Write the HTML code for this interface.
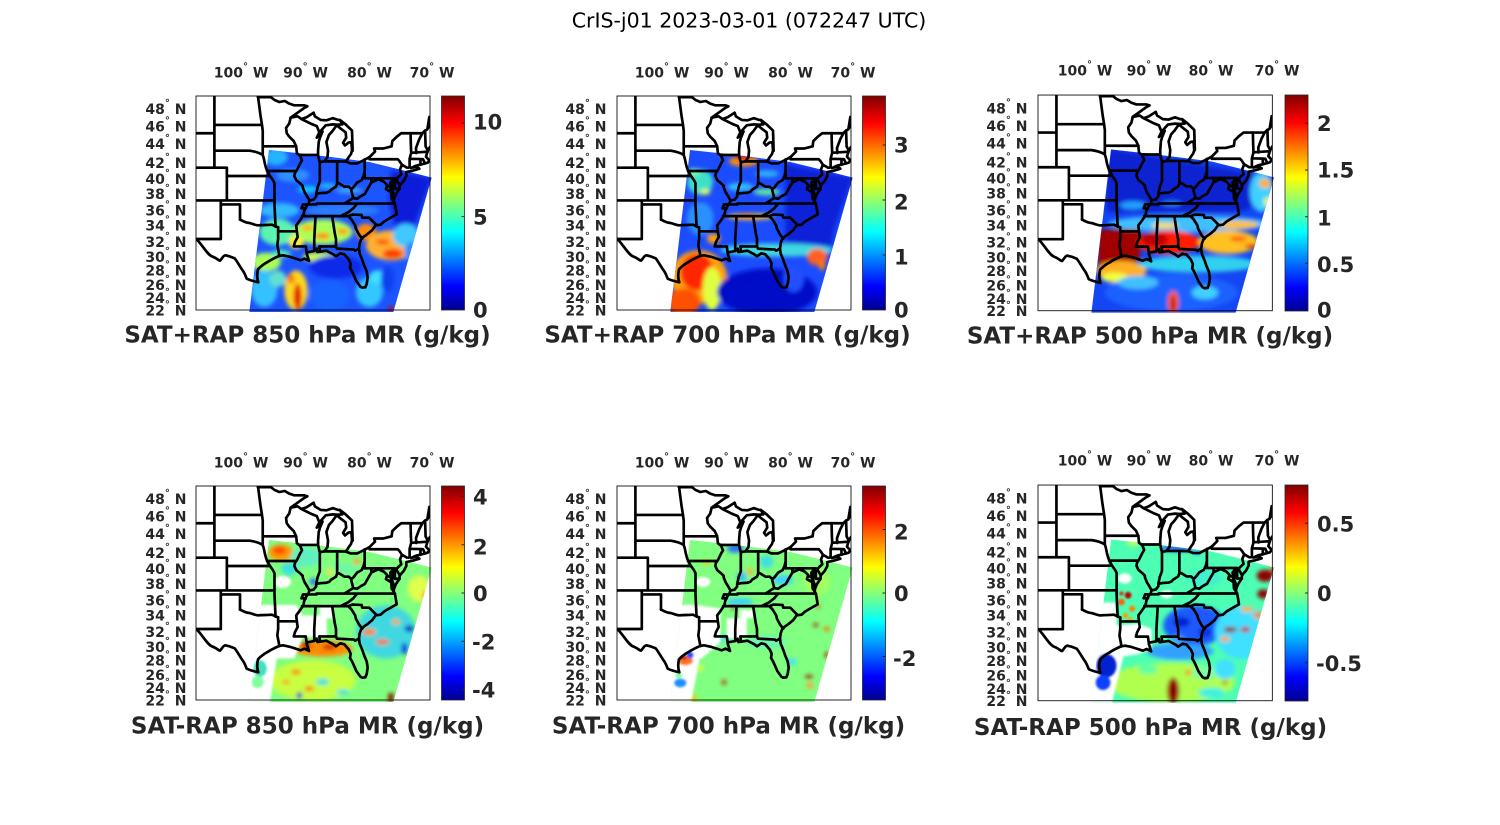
<!DOCTYPE html>
<html><head><meta charset="utf-8">
<style>
html,body{margin:0;padding:0;background:#fff;width:1500px;height:825px;overflow:hidden}
svg{display:block}
.t{font-family:"DejaVu Sans","Liberation Sans",sans-serif;fill:#262626;font-weight:bold}
.lat{font-size:14px;text-anchor:end}
.lon{font-size:14px;text-anchor:middle}
.ttl{font-size:23px;text-anchor:middle}
.cb{font-size:21px}
</style></head><body>
<svg xmlns="http://www.w3.org/2000/svg" width="1500" height="825" viewBox="0 0 1500 825">
<defs>
<linearGradient id="jet" x1="0" y1="1" x2="0" y2="0">
<stop offset="0" stop-color="#000090"/><stop offset="0.11" stop-color="#0000ff"/><stop offset="0.365" stop-color="#00ffff"/><stop offset="0.62" stop-color="#ffff00"/><stop offset="0.875" stop-color="#ff0000"/><stop offset="1" stop-color="#800000"/>
</linearGradient>
<clipPath id="sw"><path d="M219,174 L320,185 L420,197 L520,210 L610,232 L707,257 L592,660 L160,660 Z"/></clipPath>
<clipPath id="bx"><rect x="0" y="12" width="702" height="642"/></clipPath>
<filter id="bl" x="-10%" y="-10%" width="120%" height="120%"><feGaussianBlur stdDeviation="6"/></filter>
<filter id="bl2" x="-10%" y="-10%" width="120%" height="120%"><feGaussianBlur stdDeviation="3"/></filter>
<g id="mapl" fill="none" stroke="#000" stroke-width="8" stroke-linejoin="round" stroke-linecap="round">
<path d="M55.2,12 V227 M0,123.7 H55.2 M55.2,98.7 H198 M55.2,176 H161 C175,178 190,182 200,189 M0,227 H92.6 V325.3 M92.6,252 H222 M200,189 C205,200 205,212 208,220 C211,235 218,245 222,252 C228,260 234,268 235.5,274 V337.2 M185.8,12 L193.4,70 L198,98.7 L200.2,116 V189 M200.2,163 H300.6 M213,237 H297 M0,325.3 H235.5 M74.4,325.3 V441 H0 M74.4,337.2 H132 V382.7 M235.5,337.2 L238.6,404 M246.4,406 V441 L244,460 L248,480 L250,492 M246.4,418 H302"/>
<path d="M132,382.7 C145,390 155,393 161,393 C172,396 180,400 186,400 C196,399 202,399 209,399 C218,399 224,398 228,398 C235,401 240,404 246.4,406"/>
<path d="M3,443 C20,460 35,490 50,494 C60,497 68,506 72,506 C78,500 82,490 88,490 C100,492 110,496 116,499 C125,510 135,530 142,538 C148,548 150,555 152,560 C165,566 178,569 187,571 C183,560 183,545 186,532 C192,525 205,515 213,511 C222,505 228,502 232,500 C238,497 244,494 250,492"/>
<path d="M250,492 L261,490 L280,494 L299,500 L314,505 L326,500 L339,507 L335,494 L332,485 L334,481 L355,477 L362,470 L364,480 L372,479 L391,476 L412,487 L420,493 L433,484 L445,487 L458,502 L464,515 L462,528 L468,538 L474,551 L481,567 L493,584 L499,587 L508,586 L512,576 L515,557 L512,538 L504,519 L499,504 L491,485 L489,470 L491,454 L495,443 L503,434 L516,425 L529,414 L539,400 L554,398 L564,389 L579,380 L593,372 L602,367 L600,354 L597,337 L593,328 L594,320 L600,306 L610,291 L611,282 L613,278 L623,267 L631,252 L631,240 L650,236 L670,230 L660,224 L645,228 L660,221 L681,216 L695,212 L700,205 L690,194 L693,184 L697,173 L702,165"/>
<path d="M593,328 L587,320 L586,300 L585,291 L583,272 L591,263 L594,265 L590,280 L588,294 L595,313 L594,321 M602,264 L611,280 M587,301 L578,296 M584,285 L576,283"/>
<path d="M283.7,78 L279.8,94.4 L270.2,107.8 L272.2,123.7 L279.8,134.2 L293.3,147.4 L300.6,163 L302.6,183.7 L312.5,191.4 L318,205 L312.5,214.4 L302.6,234.6 L297,242 L295,252 L300.6,264.4 L312.5,274.2 L320.2,281.6 L320.2,286.5 L326,301.1 L333.6,313.2 L340.3,325.3 L337.4,334.8 L331.7,341.9 L325,355 L322.1,370.1 L312.5,384.1 L300.6,400.2 L302.6,418.5 L305,435 L297,450 L293.3,463.2 H329.4 L331.7,480.7"/>
<path d="M185.8,15.5 H225 L235.7,24 L250,30 L266.4,27 L280,35 L295,40 L324,40 L334,43 L324,48.4 L304.8,62.1 L283.7,77 L304.8,73 L316.3,81 L331.7,75.6 L352.8,62.1 L356.6,73 L373.9,83.7 L391.2,85 L410.4,78.3 L425.8,83.7 L431.5,83.7 L448.8,97.1 L468,115.8 L469.9,176 M316.3,81 L343.2,94.4 L362.4,102.4 L370.1,121.1 L362.4,136.9 L368,131 L379.7,118.4 L372,136.9 L368.2,150 L366.2,176 L366.2,188.9 L370.1,206.8 L372,210.6 L385.4,208.1 M370.1,121.1 L389.3,99.8 L410.4,97.1 L425,98 L439.2,97.1 L435,90 L431.5,83.7 M311.7,188.9 H366.2"/>
<path d="M385.4,208.1 L394.4,195 L396.2,176 L391.2,150 L398.9,128.8 L408.5,118.4 L420,102.4 L425.8,102.4 L431.5,107.8 L448.8,121.1 L450.7,136.9 L441.1,152.6 L446.9,160.4 L457,152 L466.1,150 L468,176 L465,186 L458.4,195 L449.8,208.8 M385.4,208.1 H423.8 L449.8,208.8"/>
<path d="M449.8,208.8 L464.2,214.4 L483.4,214.4 L506.4,203 L520.6,195.3 L537.1,178.6 L534.2,169.5 L562,169.5 L587,163 L588.8,147.4 L602.4,134.2 L615.8,123.7 H679.2 L686.9,115.8 L692.6,113.1 L702,100 M694,112 L700,75"/>
<path d="M371.4,208 V268 L365,285 L360.5,306 M340.3,325.3 L352.8,322.9 L360.5,313.2 L360.5,306 L372,303.6 L391.2,302.3 L400.8,298.7 L404.6,293.8 L420,284 L423.8,274.2 L429.6,274.2 L445,284 L458.4,284 L466.1,291.5 L471.8,286.5 L483.4,271.8 L496.8,264.4 L502.6,252 L506,237 M423.5,209.6 V274.2 M506,202 V259 H596.6 V290.3 H611 M520.6,195.3 V201.7 H605.3 L610.1,206.8 L617.8,218.3 L612,232 L615.8,247 L610.1,252 L602.4,259.5 M617.8,218.3 L633.1,227 M526,259 V271.8 L546.7,262 L564,269.3 L573.6,279.2 L569.8,291.5 L587,301.1 M526,271.8 L516,289 L506.4,306 L493,313.2 L483.4,320.5 L471.8,318.1 L466.1,296.3 M471.8,318.1 L445,334.8 M321,337.2 H361.4 V334.8 H596.6 M321.1,337.2 L316.3,349 H329.4 M318.2,372.4 H433.1 L456.5,360.8 L471.8,349 L483.4,335 M433.1,372.4 H456.5 L469.9,367.7 L496.8,368.9 L498.7,377.1 L519.8,377.1 L541.8,399.1 M456.5,372.4 L466.1,381.7 L477.6,400.2 L479.5,409.4 L489.1,427.5 L498.7,439.9 M408.5,372.4 L416.2,423 L420,441 V463.2 L422.7,469.9 L473.8,472.7 L477.6,476.4 L488.2,469.7 M370.1,463.2 H420 M370.1,463.2 L372,478.6 M358.6,372.4 L354.7,443.2 V476.4"/>
<path d="M643.7,123.7 L644.6,160.4 L645.6,182.5 L640.8,200.4 L640.8,224.6 L637.9,227 M679.2,123.7 L669.6,142.1 L660,168.2 L660.8,183 M645.6,182.5 L688.8,179.4 L693,180 M640.8,200.4 L673.4,201.2 L681.1,201.7 L686.9,214.4 M673.4,201.2 L673.4,218.3 M694.6,173.9 L688.8,163 L687.3,115.8"/>
</g>
</defs>
<rect width="1500" height="825" fill="#fff"/>
<text x="749" y="27.3" font-family="DejaVu Sans, Liberation Sans, sans-serif" font-size="20.5" text-anchor="middle" fill="#000">CrIS-j01 2023-03-01 (072247 UTC)</text>

<!-- PANEL 1 -->
<g transform="translate(196,92) scale(0.33333)">
<g clip-path="url(#sw)">
<rect x="0" y="0" width="720" height="680" fill="#1c54ff"/>
<g filter="url(#bl)">
<ellipse cx="240" cy="195" rx="35" ry="25" fill="#22b4ff"/>
<ellipse cx="290" cy="250" rx="50" ry="20" fill="#2f8fff"/>
<ellipse cx="335" cy="292" rx="30" ry="10" fill="#10d0ff"/>
<ellipse cx="395" cy="282" rx="25" ry="8" fill="#20c0ff"/>
<ellipse cx="460" cy="295" rx="40" ry="10" fill="#3aa0ff"/>
<polygon points="585,235 707,257 650,420 600,420 580,330" fill="#0a1ed8"/>
<ellipse cx="250" cy="355" rx="60" ry="22" fill="#30b8ff"/>
<ellipse cx="440" cy="355" rx="110" ry="18" fill="#2a7cff"/>
<ellipse cx="245" cy="420" rx="55" ry="40" fill="#5cf2b0"/>
<ellipse cx="380" cy="420" rx="90" ry="38" fill="#a8ff58"/>
<ellipse cx="300" cy="450" rx="22" ry="20" fill="#ffee30"/>
<ellipse cx="335" cy="408" rx="18" ry="9" fill="#ffb000"/>
<ellipse cx="380" cy="432" rx="22" ry="10" fill="#ff9000"/>
<ellipse cx="440" cy="418" rx="18" ry="9" fill="#ff9a00"/>
<ellipse cx="510" cy="420" rx="30" ry="25" fill="#ff8a10"/>
<ellipse cx="585" cy="460" rx="75" ry="45" fill="#ffb030"/>
<ellipse cx="590" cy="485" rx="30" ry="14" fill="#ff3a00"/>
<ellipse cx="560" cy="450" rx="20" ry="8" fill="#ff5000"/>
<ellipse cx="630" cy="430" rx="40" ry="35" fill="#40c8ff"/>
<ellipse cx="650" cy="480" rx="25" ry="30" fill="#2a8cff"/>
<ellipse cx="210" cy="510" rx="45" ry="28" fill="#a8ff58"/>
<ellipse cx="255" cy="485" rx="30" ry="12" fill="#50e8c0"/>
<ellipse cx="205" cy="590" rx="40" ry="55" fill="#34c0ff"/>
<ellipse cx="245" cy="560" rx="25" ry="25" fill="#60e0d0"/>
<ellipse cx="300" cy="595" rx="35" ry="60" fill="#ffd820"/>
<ellipse cx="305" cy="615" rx="12" ry="40" fill="#e01000"/>
<ellipse cx="285" cy="560" rx="12" ry="15" fill="#ff8000"/>
<ellipse cx="370" cy="495" rx="50" ry="14" fill="#d0ff40"/>
<ellipse cx="420" cy="525" rx="80" ry="35" fill="#0a2ae8"/>
<ellipse cx="400" cy="610" rx="60" ry="45" fill="#1864ff"/>
<ellipse cx="520" cy="600" rx="40" ry="45" fill="#30c8ff"/>
<ellipse cx="545" cy="555" rx="25" ry="20" fill="#40e0ff"/>
<ellipse cx="575" cy="560" rx="20" ry="40" fill="#1040f0"/>
<ellipse cx="585" cy="650" rx="8" ry="8" fill="#d00000"/>
</g>
</g>
<g clip-path="url(#bx)"><use href="#mapl"/></g>
<rect x="0" y="12" width="702" height="642" fill="none" stroke="#000" stroke-width="2.5"/>
</g>

<!-- PANEL 2 -->
<g transform="translate(617,92) scale(0.33333)">
<g clip-path="url(#sw)">
<rect x="0" y="0" width="720" height="680" fill="#1c4cff"/>
<g filter="url(#bl)">
<polygon points="505,215 707,257 650,420 640,500 505,480" fill="#0a22d8"/>
<ellipse cx="380" cy="208" rx="45" ry="15" fill="#ff9000"/>
<ellipse cx="380" cy="198" rx="25" ry="9" fill="#ff1a00"/>
<ellipse cx="250" cy="270" rx="38" ry="38" fill="#40e0c8"/>
<ellipse cx="265" cy="300" rx="15" ry="8" fill="#e8ff30"/>
<ellipse cx="230" cy="240" rx="20" ry="10" fill="#80ffa0"/>
<ellipse cx="370" cy="285" rx="40" ry="12" fill="#30c0ff"/>
<ellipse cx="450" cy="300" rx="40" ry="10" fill="#60e8a0"/>
<ellipse cx="450" cy="245" rx="35" ry="10" fill="#30b0ff"/>
<ellipse cx="250" cy="380" rx="40" ry="50" fill="#2a90ff"/>
<ellipse cx="290" cy="440" rx="20" ry="15" fill="#ffa000"/>
<ellipse cx="400" cy="374" rx="70" ry="10" fill="#ffc020"/>
<ellipse cx="390" cy="372" rx="30" ry="5" fill="#ff7000"/>
<ellipse cx="480" cy="474" rx="170" ry="20" fill="#40d8e0"/>
<ellipse cx="245" cy="555" rx="85" ry="80" fill="#ffa010"/>
<ellipse cx="240" cy="540" rx="50" ry="55" fill="#ff2800"/>
<ellipse cx="200" cy="630" rx="50" ry="40" fill="#ff5000"/>
<ellipse cx="285" cy="590" rx="28" ry="65" fill="#e0ff40"/>
<ellipse cx="450" cy="600" rx="150" ry="70" fill="#0008c8"/>
<ellipse cx="600" cy="495" rx="30" ry="25" fill="#ff6020"/>
<ellipse cx="615" cy="520" rx="10" ry="15" fill="#ff8000"/>
<ellipse cx="530" cy="560" rx="30" ry="40" fill="#2050ff"/>
</g>
</g>
<g clip-path="url(#bx)"><use href="#mapl"/></g>
<rect x="0" y="12" width="702" height="642" fill="none" stroke="#000" stroke-width="2.5"/>
</g>

<!-- PANEL 3 -->
<g transform="translate(1038,91) scale(0.3338,0.336)">
<g clip-path="url(#sw)">
<rect x="0" y="0" width="720" height="680" fill="#1446f4"/>
<g filter="url(#bl)">
<polygon points="205,170 707,257 690,330 600,360 205,360" fill="#0a22d0"/>
<ellipse cx="285" cy="340" rx="40" ry="12" fill="#20a0ff"/>
<ellipse cx="400" cy="335" rx="30" ry="8" fill="#2080ff"/>
<ellipse cx="670" cy="300" rx="35" ry="60" fill="#40d0ff"/>
<ellipse cx="680" cy="275" rx="18" ry="14" fill="#ffb020"/>
<ellipse cx="690" cy="330" rx="14" ry="14" fill="#e0ff40"/>
<ellipse cx="450" cy="395" rx="240" ry="25" fill="#40c0ff"/>
<ellipse cx="600" cy="398" rx="60" ry="12" fill="#ffc030"/>
<ellipse cx="380" cy="400" rx="40" ry="8" fill="#ffe040"/>
<polygon points="180,412 306,412 306,500 250,532 180,532" fill="#a00000"/>
<ellipse cx="390" cy="450" rx="95" ry="35" fill="#ff1a00"/>
<ellipse cx="350" cy="442" rx="40" ry="20" fill="#c00000"/>
<ellipse cx="570" cy="450" rx="90" ry="35" fill="#ffc020"/>
<ellipse cx="600" cy="440" rx="25" ry="6" fill="#ff3000"/>
<ellipse cx="640" cy="462" rx="20" ry="6" fill="#d01000"/>
<ellipse cx="250" cy="535" rx="75" ry="30" fill="#ffb020"/>
<ellipse cx="230" cy="555" rx="40" ry="15" fill="#f0ff40"/>
<ellipse cx="480" cy="515" rx="180" ry="25" fill="#30d0f0"/>
<ellipse cx="400" cy="600" rx="200" ry="55" fill="#1a60ff"/>
<ellipse cx="300" cy="570" rx="60" ry="20" fill="#40c0ff"/>
<ellipse cx="500" cy="600" rx="40" ry="20" fill="#40d0ff"/>
<ellipse cx="405" cy="630" rx="16" ry="35" fill="#ff6000"/>
<ellipse cx="405" cy="635" rx="7" ry="28" fill="#c00000"/>
</g>
</g>
<g clip-path="url(#bx)"><use href="#mapl"/></g>
<rect x="0" y="12" width="702" height="642" fill="none" stroke="#000" stroke-width="2.5"/>
</g>

<!-- PANEL 4 -->
<g transform="translate(196,482) scale(0.33333)">
<g clip-path="url(#sw)">
<rect x="0" y="0" width="720" height="680" fill="#80ff80"/>
<g filter="url(#bl)">
<ellipse cx="255" cy="212" rx="38" ry="25" fill="#ff9a00"/>
<ellipse cx="250" cy="205" rx="20" ry="12" fill="#ff4a00"/>
<ellipse cx="330" cy="225" rx="45" ry="30" fill="#60f0c0"/>
<ellipse cx="280" cy="260" rx="25" ry="20" fill="#40e0e0"/>
<ellipse cx="352" cy="299" rx="10" ry="10" fill="#2060ff"/>
<ellipse cx="402" cy="269" rx="10" ry="10" fill="#ffe040"/>
<ellipse cx="482" cy="239" rx="12" ry="8" fill="#ffa030"/>
<ellipse cx="450" cy="260" rx="40" ry="18" fill="#70f8a0"/>
<ellipse cx="670" cy="320" rx="35" ry="40" fill="#e0ff50"/>
<ellipse cx="690" cy="340" rx="12" ry="12" fill="#ffa000"/>
<ellipse cx="570" cy="450" rx="90" ry="80" fill="#40d8e0"/>
<ellipse cx="640" cy="440" rx="14" ry="10" fill="#0010c0"/>
<ellipse cx="625" cy="500" rx="9" ry="18" fill="#0030e0"/>
<ellipse cx="520" cy="450" rx="20" ry="10" fill="#ff8000"/>
<ellipse cx="560" cy="480" rx="20" ry="8" fill="#ff6000"/>
<ellipse cx="600" cy="420" rx="12" ry="8" fill="#ffa000"/>
<ellipse cx="380" cy="500" rx="90" ry="24" fill="#ff8a00"/>
<ellipse cx="330" cy="490" rx="15" ry="10" fill="#c00000"/>
<ellipse cx="400" cy="495" rx="20" ry="8" fill="#d01000"/>
<ellipse cx="350" cy="595" rx="130" ry="60" fill="#c8ff40"/>
<ellipse cx="300" cy="570" rx="15" ry="8" fill="#ff8000"/>
<ellipse cx="340" cy="620" rx="14" ry="7" fill="#ff6000"/>
<ellipse cx="270" cy="600" rx="12" ry="6" fill="#ff9000"/>
<ellipse cx="380" cy="600" rx="20" ry="10" fill="#40e0e0"/>
<ellipse cx="310" cy="640" rx="8" ry="10" fill="#0020c0"/>
<ellipse cx="440" cy="630" rx="20" ry="8" fill="#40e0e0"/>
<ellipse cx="520" cy="620" rx="40" ry="30" fill="#80ff80"/>
<rect x="577" y="634" width="15" height="25" fill="#900000"/>
</g>
<g filter="url(#bl2)" fill="#fff">
<polygon points="150,369 300,369 320,400 392,400 392,465 320,465 295,529 242,529 222,662 150,662"/>
<ellipse cx="260" cy="300" rx="25" ry="18"/>
<polygon points="372,369 412,369 412,409 372,409"/>
</g>
<g filter="url(#bl2)">
<ellipse cx="192" cy="560" rx="20" ry="25" fill="#40e0c0"/>
<ellipse cx="185" cy="600" rx="18" ry="18" fill="#80ffa0"/>
</g>
</g>
<g clip-path="url(#bx)"><use href="#mapl"/></g>
<rect x="0" y="12" width="702" height="642" fill="none" stroke="#000" stroke-width="2.5"/>
</g>

<!-- PANEL 5 -->
<g transform="translate(617,482) scale(0.33333)">
<g clip-path="url(#sw)">
<rect x="0" y="0" width="720" height="680" fill="#80ff80"/>
<g filter="url(#bl)">
<ellipse cx="355" cy="200" rx="25" ry="12" fill="#2070ff"/>
<ellipse cx="374" cy="284" rx="15" ry="15" fill="#30c0ff"/>
<ellipse cx="449" cy="239" rx="20" ry="20" fill="#40e0e0"/>
<ellipse cx="499" cy="294" rx="30" ry="15" fill="#40d0ff"/>
<ellipse cx="269" cy="241" rx="10" ry="8" fill="#ffc020"/>
<ellipse cx="399" cy="269" rx="10" ry="10" fill="#ffb020"/>
<ellipse cx="369" cy="359" rx="40" ry="10" fill="#30d0ff"/>
<ellipse cx="349" cy="376" rx="5" ry="8" fill="#a00000"/>
<ellipse cx="600" cy="300" rx="40" ry="40" fill="#a0ff60"/>
<ellipse cx="604" cy="374" rx="6" ry="5" fill="#ff4000"/>
<ellipse cx="596" cy="429" rx="8" ry="5" fill="#b00000"/>
<ellipse cx="629" cy="441" rx="10" ry="6" fill="#ff7000"/>
<ellipse cx="629" cy="519" rx="5" ry="10" fill="#c00000"/>
<ellipse cx="576" cy="584" rx="12" ry="5" fill="#b00000"/>
<ellipse cx="321" cy="601" rx="7" ry="7" fill="#c02000"/>
<ellipse cx="249" cy="559" rx="10" ry="10" fill="#e0ff40"/>
<ellipse cx="524" cy="539" rx="15" ry="10" fill="#40e0ff"/>
<ellipse cx="579" cy="610" rx="10" ry="10" fill="#ffa040"/>
<ellipse cx="300" cy="470" rx="50" ry="15" fill="#60f0c0"/>
<ellipse cx="450" cy="480" rx="60" ry="20" fill="#70f8b0"/>
<ellipse cx="229" cy="649" rx="10" ry="10" fill="#ffc000"/>
</g>
<g filter="url(#bl2)" fill="#fff">
<polygon points="150,369 240,369 310,380 310,480 255,529 248,529 222,662 150,662"/>
<polygon points="329,409 389,409 389,469 329,469"/>
<polygon points="369,384 409,384 409,409 369,409"/>
<ellipse cx="258" cy="300" rx="22" ry="15"/>
</g>
<g filter="url(#bl2)">
<ellipse cx="205" cy="535" rx="22" ry="14" fill="#ff7020"/>
<ellipse cx="200" cy="527" rx="10" ry="6" fill="#d02000"/>
<ellipse cx="219" cy="519" rx="10" ry="10" fill="#2050ff"/>
<ellipse cx="190" cy="603" rx="18" ry="13" fill="#1e90ff"/>
<ellipse cx="185" cy="580" rx="10" ry="10" fill="#80ffa0"/>
</g>
</g>
<g clip-path="url(#bx)"><use href="#mapl"/></g>
<rect x="0" y="12" width="702" height="642" fill="none" stroke="#000" stroke-width="2.5"/>
</g>

<!-- PANEL 6 -->
<g transform="translate(1038,481) scale(0.3338,0.336)">
<g clip-path="url(#sw)">
<rect x="0" y="0" width="720" height="680" fill="#4dffb3"/>
<g filter="url(#bl)">
<ellipse cx="416" cy="200" rx="50" ry="10" fill="#2060ff"/>
<ellipse cx="476" cy="212" rx="12" ry="8" fill="#30a0ff"/>
<ellipse cx="286" cy="184" rx="20" ry="7" fill="#e0ff40"/>
<ellipse cx="500" cy="290" rx="50" ry="25" fill="#40f0d0"/>
<ellipse cx="470" cy="430" rx="95" ry="60" fill="#1a5aff"/>
<ellipse cx="430" cy="420" rx="25" ry="15" fill="#0020d0"/>
<ellipse cx="500" cy="450" rx="20" ry="15" fill="#0a30e0"/>
<ellipse cx="420" cy="470" rx="20" ry="12" fill="#40a0ff"/>
<ellipse cx="610" cy="450" rx="80" ry="80" fill="#40e0ff"/>
<ellipse cx="626" cy="382" rx="20" ry="8" fill="#ffb000"/>
<ellipse cx="576" cy="442" rx="20" ry="8" fill="#900000"/>
<ellipse cx="621" cy="442" rx="15" ry="8" fill="#c01000"/>
<ellipse cx="560" cy="470" rx="15" ry="8" fill="#ffa020"/>
<ellipse cx="660" cy="400" rx="15" ry="10" fill="#ff8000"/>
<ellipse cx="680" cy="282" rx="25" ry="18" fill="#900000"/>
<ellipse cx="705" cy="265" rx="8" ry="8" fill="#ff2000"/>
<ellipse cx="675" cy="336" rx="18" ry="14" fill="#900000"/>
<ellipse cx="426" cy="507" rx="100" ry="25" fill="#30a0ff"/>
<ellipse cx="400" cy="600" rx="190" ry="60" fill="#b0ff50"/>
<ellipse cx="330" cy="560" rx="30" ry="15" fill="#60ffa0"/>
<ellipse cx="500" cy="570" rx="40" ry="20" fill="#80ffa0"/>
<ellipse cx="560" cy="560" rx="30" ry="30" fill="#40e0ff"/>
<ellipse cx="520" cy="630" rx="40" ry="15" fill="#40f0e0"/>
<ellipse cx="405" cy="625" rx="18" ry="40" fill="#900000"/>
<ellipse cx="450" cy="570" rx="10" ry="6" fill="#ff6000"/>
<ellipse cx="560" cy="600" rx="8" ry="5" fill="#c00000"/>
</g>
<g filter="url(#bl2)" fill="#fff">
<polygon points="150,362 232,362 236,430 300,425 340,440 340,500 300,515 256,522 221,662 150,662"/>
<ellipse cx="260" cy="290" rx="20" ry="15"/>
<ellipse cx="386" cy="337" rx="18" ry="12"/>
</g>
<g filter="url(#bl2)">
<circle cx="250" cy="360" r="10" fill="#ff6000"/>
<circle cx="270" cy="340" r="10" fill="#c00000"/>
<circle cx="282" cy="380" r="9" fill="#ff8000"/>
<circle cx="262" cy="400" r="8" fill="#ff9a00"/>
<circle cx="276" cy="414" r="8" fill="#ffa000"/>
<circle cx="250" cy="335" r="6" fill="#e02000"/>
<ellipse cx="205" cy="550" rx="30" ry="35" fill="#0020d0"/>
<ellipse cx="195" cy="600" rx="22" ry="22" fill="#1040ff"/>
</g>
</g>
<g clip-path="url(#bx)"><use href="#mapl"/></g>
<rect x="0" y="12" width="702" height="642" fill="none" stroke="#000" stroke-width="2.5"/>
</g>

<!-- COLORBARS -->
<g stroke="#262626" stroke-width="0.8">
<rect x="441.5" y="96" width="23" height="214" fill="url(#jet)"/>
<rect x="862.5" y="96" width="23" height="214" fill="url(#jet)"/>
<rect x="1285" y="95" width="23" height="216" fill="url(#jet)"/>
<rect x="441.5" y="486" width="23" height="214" fill="url(#jet)"/>
<rect x="862.5" y="486" width="23" height="214" fill="url(#jet)"/>
<rect x="1285" y="485" width="23" height="216" fill="url(#jet)"/>
</g>
<g stroke="#262626" stroke-width="1">
<path d="M461.5,216.6 H464.5 M461.5,123.1 H464.5"/>
<path d="M882.5,255 H885.5 M882.5,200 H885.5 M882.5,145 H885.5"/>
<path d="M1305,263.3 H1308 M1305,216.7 H1308 M1305,170 H1308 M1305,123.3 H1308"/>
<path d="M461.5,496.3 H464.5 M461.5,544.7 H464.5 M461.5,593 H464.5 M461.5,641.3 H464.5 M461.5,689.6 H464.5"/>
<path d="M882.5,529.5 H885.5 M882.5,593 H885.5 M882.5,656.5 H885.5"/>
<path d="M1305,523.3 H1308 M1305,593 H1308 M1305,662.7 H1308"/>
</g>
<g class="t cb">
<text x="473" y="129.3">10</text><text x="473" y="224.3">5</text><text x="473" y="317.6">0</text>
<text x="894" y="152.6">3</text><text x="894" y="209.3">2</text><text x="894" y="264.3">1</text><text x="894" y="317.6">0</text>
<text x="1317" y="130.9">2</text><text x="1317" y="177.6">1.5</text><text x="1317" y="225.3">1</text><text x="1317" y="271.9">0.5</text><text x="1317" y="317.6">0</text>
<text x="473" y="504.3">4</text><text x="473" y="554.3">2</text><text x="473" y="600.9">0</text><text x="472" y="649.3">-2</text><text x="472" y="697.6">-4</text>
<text x="894" y="539.3">2</text><text x="894" y="600.9">0</text><text x="893" y="665.9">-2</text>
<text x="1317" y="531.6">0.5</text><text x="1317" y="600.9">0</text><text x="1316" y="670.9">-0.5</text>
</g>

<!-- TITLES -->
<g class="t ttl">
<text x="307.5" y="342.3">SAT+RAP 850 hPa MR (g/kg)</text>
<text x="727.5" y="342.3">SAT+RAP 700 hPa MR (g/kg)</text>
<text x="1150" y="343.3">SAT+RAP 500 hPa MR (g/kg)</text>
<text x="307.5" y="733.3">SAT-RAP 850 hPa MR (g/kg)</text>
<text x="728.5" y="733.3">SAT-RAP 700 hPa MR (g/kg)</text>
<text x="1150.5" y="735">SAT-RAP 500 hPa MR (g/kg)</text>
</g>

<!-- LON LABELS -->
<g class="t lon">
<text x="241" y="77.3">100<tspan font-size="10" dy="-8">°</tspan><tspan dy="8"> W</tspan></text>
<text x="305.5" y="77.3">90<tspan font-size="10" dy="-8">°</tspan><tspan dy="8"> W</tspan></text>
<text x="369.5" y="77.3">80<tspan font-size="10" dy="-8">°</tspan><tspan dy="8"> W</tspan></text>
<text x="432" y="77.3">70<tspan font-size="10" dy="-8">°</tspan><tspan dy="8"> W</tspan></text>
<text x="662" y="77.3">100<tspan font-size="10" dy="-8">°</tspan><tspan dy="8"> W</tspan></text>
<text x="726.5" y="77.3">90<tspan font-size="10" dy="-8">°</tspan><tspan dy="8"> W</tspan></text>
<text x="790.5" y="77.3">80<tspan font-size="10" dy="-8">°</tspan><tspan dy="8"> W</tspan></text>
<text x="853" y="77.3">70<tspan font-size="10" dy="-8">°</tspan><tspan dy="8"> W</tspan></text>
<text x="1085" y="75.7">100<tspan font-size="10" dy="-8">°</tspan><tspan dy="8"> W</tspan></text>
<text x="1149" y="75.7">90<tspan font-size="10" dy="-8">°</tspan><tspan dy="8"> W</tspan></text>
<text x="1211" y="75.7">80<tspan font-size="10" dy="-8">°</tspan><tspan dy="8"> W</tspan></text>
<text x="1277" y="75.7">70<tspan font-size="10" dy="-8">°</tspan><tspan dy="8"> W</tspan></text>
<text x="241" y="467.3">100<tspan font-size="10" dy="-8">°</tspan><tspan dy="8"> W</tspan></text>
<text x="305.5" y="467.3">90<tspan font-size="10" dy="-8">°</tspan><tspan dy="8"> W</tspan></text>
<text x="369.5" y="467.3">80<tspan font-size="10" dy="-8">°</tspan><tspan dy="8"> W</tspan></text>
<text x="432" y="467.3">70<tspan font-size="10" dy="-8">°</tspan><tspan dy="8"> W</tspan></text>
<text x="662" y="467.3">100<tspan font-size="10" dy="-8">°</tspan><tspan dy="8"> W</tspan></text>
<text x="726.5" y="467.3">90<tspan font-size="10" dy="-8">°</tspan><tspan dy="8"> W</tspan></text>
<text x="790.5" y="467.3">80<tspan font-size="10" dy="-8">°</tspan><tspan dy="8"> W</tspan></text>
<text x="853" y="467.3">70<tspan font-size="10" dy="-8">°</tspan><tspan dy="8"> W</tspan></text>
<text x="1085" y="465.7">100<tspan font-size="10" dy="-8">°</tspan><tspan dy="8"> W</tspan></text>
<text x="1149" y="465.7">90<tspan font-size="10" dy="-8">°</tspan><tspan dy="8"> W</tspan></text>
<text x="1211" y="465.7">80<tspan font-size="10" dy="-8">°</tspan><tspan dy="8"> W</tspan></text>
<text x="1277" y="465.7">70<tspan font-size="10" dy="-8">°</tspan><tspan dy="8"> W</tspan></text>
</g>

<!-- LAT LABELS -->
<g class="t lat">
<text x="186.5" y="114">48<tspan font-size="10" dy="-8">°</tspan><tspan dy="8"> N</tspan></text>
<text x="186.5" y="131.5">46<tspan font-size="10" dy="-8">°</tspan><tspan dy="8"> N</tspan></text>
<text x="186.5" y="148.8">44<tspan font-size="10" dy="-8">°</tspan><tspan dy="8"> N</tspan></text>
<text x="186.5" y="167.8">42<tspan font-size="10" dy="-8">°</tspan><tspan dy="8"> N</tspan></text>
<text x="186.5" y="183.8">40<tspan font-size="10" dy="-8">°</tspan><tspan dy="8"> N</tspan></text>
<text x="186.5" y="198.8">38<tspan font-size="10" dy="-8">°</tspan><tspan dy="8"> N</tspan></text>
<text x="186.5" y="215.5">36<tspan font-size="10" dy="-8">°</tspan><tspan dy="8"> N</tspan></text>
<text x="186.5" y="230.5">34<tspan font-size="10" dy="-8">°</tspan><tspan dy="8"> N</tspan></text>
<text x="186.5" y="247.2">32<tspan font-size="10" dy="-8">°</tspan><tspan dy="8"> N</tspan></text>
<text x="186.5" y="262.2">30<tspan font-size="10" dy="-8">°</tspan><tspan dy="8"> N</tspan></text>
<text x="186.5" y="275.5">28<tspan font-size="10" dy="-8">°</tspan><tspan dy="8"> N</tspan></text>
<text x="186.5" y="289.8">26<tspan font-size="10" dy="-8">°</tspan><tspan dy="8"> N</tspan></text>
<text x="186.5" y="303.2">24<tspan font-size="10" dy="-8">°</tspan><tspan dy="8"> N</tspan></text>
<text x="186.5" y="315.5">22<tspan font-size="10" dy="-8">°</tspan><tspan dy="8"> N</tspan></text>

<text x="606.5" y="114">48<tspan font-size="10" dy="-8">°</tspan><tspan dy="8"> N</tspan></text>
<text x="606.5" y="131.5">46<tspan font-size="10" dy="-8">°</tspan><tspan dy="8"> N</tspan></text>
<text x="606.5" y="148.8">44<tspan font-size="10" dy="-8">°</tspan><tspan dy="8"> N</tspan></text>
<text x="606.5" y="167.8">42<tspan font-size="10" dy="-8">°</tspan><tspan dy="8"> N</tspan></text>
<text x="606.5" y="183.8">40<tspan font-size="10" dy="-8">°</tspan><tspan dy="8"> N</tspan></text>
<text x="606.5" y="198.8">38<tspan font-size="10" dy="-8">°</tspan><tspan dy="8"> N</tspan></text>
<text x="606.5" y="215.5">36<tspan font-size="10" dy="-8">°</tspan><tspan dy="8"> N</tspan></text>
<text x="606.5" y="230.5">34<tspan font-size="10" dy="-8">°</tspan><tspan dy="8"> N</tspan></text>
<text x="606.5" y="247.2">32<tspan font-size="10" dy="-8">°</tspan><tspan dy="8"> N</tspan></text>
<text x="606.5" y="262.2">30<tspan font-size="10" dy="-8">°</tspan><tspan dy="8"> N</tspan></text>
<text x="606.5" y="275.5">28<tspan font-size="10" dy="-8">°</tspan><tspan dy="8"> N</tspan></text>
<text x="606.5" y="289.8">26<tspan font-size="10" dy="-8">°</tspan><tspan dy="8"> N</tspan></text>
<text x="606.5" y="303.2">24<tspan font-size="10" dy="-8">°</tspan><tspan dy="8"> N</tspan></text>
<text x="606.5" y="315.5">22<tspan font-size="10" dy="-8">°</tspan><tspan dy="8"> N</tspan></text>

<text x="1027.5" y="113.3">48<tspan font-size="10" dy="-8">°</tspan><tspan dy="8"> N</tspan></text>
<text x="1027.5" y="130.9">46<tspan font-size="10" dy="-8">°</tspan><tspan dy="8"> N</tspan></text>
<text x="1027.5" y="148.3">44<tspan font-size="10" dy="-8">°</tspan><tspan dy="8"> N</tspan></text>
<text x="1027.5" y="167.4">42<tspan font-size="10" dy="-8">°</tspan><tspan dy="8"> N</tspan></text>
<text x="1027.5" y="183.5">40<tspan font-size="10" dy="-8">°</tspan><tspan dy="8"> N</tspan></text>
<text x="1027.5" y="198.6">38<tspan font-size="10" dy="-8">°</tspan><tspan dy="8"> N</tspan></text>
<text x="1027.5" y="215.5">36<tspan font-size="10" dy="-8">°</tspan><tspan dy="8"> N</tspan></text>
<text x="1027.5" y="230.6">34<tspan font-size="10" dy="-8">°</tspan><tspan dy="8"> N</tspan></text>
<text x="1027.5" y="247.4">32<tspan font-size="10" dy="-8">°</tspan><tspan dy="8"> N</tspan></text>
<text x="1027.5" y="262.5">30<tspan font-size="10" dy="-8">°</tspan><tspan dy="8"> N</tspan></text>
<text x="1027.5" y="275.9">28<tspan font-size="10" dy="-8">°</tspan><tspan dy="8"> N</tspan></text>
<text x="1027.5" y="290.3">26<tspan font-size="10" dy="-8">°</tspan><tspan dy="8"> N</tspan></text>
<text x="1027.5" y="303.8">24<tspan font-size="10" dy="-8">°</tspan><tspan dy="8"> N</tspan></text>
<text x="1027.5" y="316.2">22<tspan font-size="10" dy="-8">°</tspan><tspan dy="8"> N</tspan></text>

<text x="186.5" y="504">48<tspan font-size="10" dy="-8">°</tspan><tspan dy="8"> N</tspan></text>
<text x="186.5" y="521.5">46<tspan font-size="10" dy="-8">°</tspan><tspan dy="8"> N</tspan></text>
<text x="186.5" y="538.8">44<tspan font-size="10" dy="-8">°</tspan><tspan dy="8"> N</tspan></text>
<text x="186.5" y="557.8">42<tspan font-size="10" dy="-8">°</tspan><tspan dy="8"> N</tspan></text>
<text x="186.5" y="573.8">40<tspan font-size="10" dy="-8">°</tspan><tspan dy="8"> N</tspan></text>
<text x="186.5" y="588.8">38<tspan font-size="10" dy="-8">°</tspan><tspan dy="8"> N</tspan></text>
<text x="186.5" y="605.5">36<tspan font-size="10" dy="-8">°</tspan><tspan dy="8"> N</tspan></text>
<text x="186.5" y="620.5">34<tspan font-size="10" dy="-8">°</tspan><tspan dy="8"> N</tspan></text>
<text x="186.5" y="637.2">32<tspan font-size="10" dy="-8">°</tspan><tspan dy="8"> N</tspan></text>
<text x="186.5" y="652.2">30<tspan font-size="10" dy="-8">°</tspan><tspan dy="8"> N</tspan></text>
<text x="186.5" y="665.5">28<tspan font-size="10" dy="-8">°</tspan><tspan dy="8"> N</tspan></text>
<text x="186.5" y="679.8">26<tspan font-size="10" dy="-8">°</tspan><tspan dy="8"> N</tspan></text>
<text x="186.5" y="693.2">24<tspan font-size="10" dy="-8">°</tspan><tspan dy="8"> N</tspan></text>
<text x="186.5" y="705.5">22<tspan font-size="10" dy="-8">°</tspan><tspan dy="8"> N</tspan></text>

<text x="606.5" y="504">48<tspan font-size="10" dy="-8">°</tspan><tspan dy="8"> N</tspan></text>
<text x="606.5" y="521.5">46<tspan font-size="10" dy="-8">°</tspan><tspan dy="8"> N</tspan></text>
<text x="606.5" y="538.8">44<tspan font-size="10" dy="-8">°</tspan><tspan dy="8"> N</tspan></text>
<text x="606.5" y="557.8">42<tspan font-size="10" dy="-8">°</tspan><tspan dy="8"> N</tspan></text>
<text x="606.5" y="573.8">40<tspan font-size="10" dy="-8">°</tspan><tspan dy="8"> N</tspan></text>
<text x="606.5" y="588.8">38<tspan font-size="10" dy="-8">°</tspan><tspan dy="8"> N</tspan></text>
<text x="606.5" y="605.5">36<tspan font-size="10" dy="-8">°</tspan><tspan dy="8"> N</tspan></text>
<text x="606.5" y="620.5">34<tspan font-size="10" dy="-8">°</tspan><tspan dy="8"> N</tspan></text>
<text x="606.5" y="637.2">32<tspan font-size="10" dy="-8">°</tspan><tspan dy="8"> N</tspan></text>
<text x="606.5" y="652.2">30<tspan font-size="10" dy="-8">°</tspan><tspan dy="8"> N</tspan></text>
<text x="606.5" y="665.5">28<tspan font-size="10" dy="-8">°</tspan><tspan dy="8"> N</tspan></text>
<text x="606.5" y="679.8">26<tspan font-size="10" dy="-8">°</tspan><tspan dy="8"> N</tspan></text>
<text x="606.5" y="693.2">24<tspan font-size="10" dy="-8">°</tspan><tspan dy="8"> N</tspan></text>
<text x="606.5" y="705.5">22<tspan font-size="10" dy="-8">°</tspan><tspan dy="8"> N</tspan></text>

<text x="1027.5" y="503.3">48<tspan font-size="10" dy="-8">°</tspan><tspan dy="8"> N</tspan></text>
<text x="1027.5" y="520.9">46<tspan font-size="10" dy="-8">°</tspan><tspan dy="8"> N</tspan></text>
<text x="1027.5" y="538.3">44<tspan font-size="10" dy="-8">°</tspan><tspan dy="8"> N</tspan></text>
<text x="1027.5" y="557.4">42<tspan font-size="10" dy="-8">°</tspan><tspan dy="8"> N</tspan></text>
<text x="1027.5" y="573.5">40<tspan font-size="10" dy="-8">°</tspan><tspan dy="8"> N</tspan></text>
<text x="1027.5" y="588.6">38<tspan font-size="10" dy="-8">°</tspan><tspan dy="8"> N</tspan></text>
<text x="1027.5" y="605.5">36<tspan font-size="10" dy="-8">°</tspan><tspan dy="8"> N</tspan></text>
<text x="1027.5" y="620.6">34<tspan font-size="10" dy="-8">°</tspan><tspan dy="8"> N</tspan></text>
<text x="1027.5" y="637.4">32<tspan font-size="10" dy="-8">°</tspan><tspan dy="8"> N</tspan></text>
<text x="1027.5" y="652.5">30<tspan font-size="10" dy="-8">°</tspan><tspan dy="8"> N</tspan></text>
<text x="1027.5" y="665.9">28<tspan font-size="10" dy="-8">°</tspan><tspan dy="8"> N</tspan></text>
<text x="1027.5" y="680.3">26<tspan font-size="10" dy="-8">°</tspan><tspan dy="8"> N</tspan></text>
<text x="1027.5" y="693.8">24<tspan font-size="10" dy="-8">°</tspan><tspan dy="8"> N</tspan></text>
<text x="1027.5" y="706.2">22<tspan font-size="10" dy="-8">°</tspan><tspan dy="8"> N</tspan></text>
</g>
</svg>
</body></html>
